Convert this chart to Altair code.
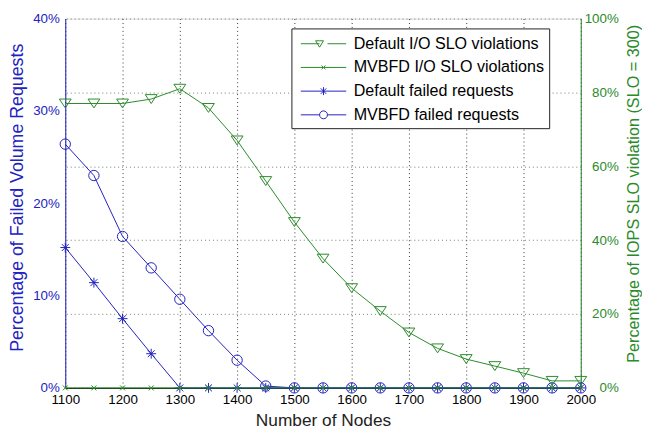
import altair as alt
import pandas as pd

# ---------------- data ----------------
nodes = [1100, 1150, 1200, 1250, 1300, 1350, 1400, 1450, 1500, 1550,
         1600, 1650, 1700, 1750, 1800, 1850, 1900, 1950, 2000]
default_io = [77.0, 77.0, 77.0, 78.2, 81.0, 75.8, 67.0, 56.0, 44.9, 35.0,
              27.0, 20.8, 15.0, 10.7, 7.8, 5.9, 4.0, 1.9, 1.9]
mvbfd_io = [0.0, 0.0, 0.0, 0.0, 0.0, 0.0, 0.0, 0.0, 0.0, 0.0,
            0.0, 0.0, 0.0, 0.0, 0.0, 0.0, 0.0, 0.0, 0.0]
default_failed = [15.2, 11.4, 7.5, 3.7, 0.0, 0.0, 0.0, 0.0, 0.0, 0.0,
                  0.0, 0.0, 0.0, 0.0, 0.0, 0.0, 0.0, 0.0, 0.0]
mvbfd_failed = [26.4, 23.0, 16.4, 13.0, 9.6, 6.2, 3.0, 0.2, 0.0, 0.0,
                0.0, 0.0, 0.0, 0.0, 0.0, 0.0, 0.0, 0.0, 0.0]

series_names = ["Default I/O SLO violations", "MVBFD I/O SLO violations",
                "Default failed requests", "MVBFD failed requests"]
x_ticks = [1100, 1200, 1300, 1400, 1500, 1600, 1700, 1800, 1900, 2000]
left_ticks = [0, 10, 20, 30, 40]
right_ticks = [0, 20, 40, 60, 80, 100]

# ---------------- style ----------------
BLUE = "#2222c0"
GREEN = "#2a8a2a"
FONT = "Liberation Sans"

def frame(values, name):
    return pd.DataFrame({"nodes": nodes, "value": values, "series": name})

df_dio = frame(default_io, series_names[0])
df_mio = frame(mvbfd_io, series_names[1])
df_dfr = frame(default_failed, series_names[2])
df_mfr = frame(mvbfd_failed, series_names[3])

x_enc = alt.X("nodes:Q", scale=alt.Scale(domain=[1100, 2000], nice=False, zero=False),
              axis=alt.Axis(values=x_ticks, title="Number of Nodes", grid=True,
                            gridDash=[1, 3], gridColor="#222222", gridOpacity=0.9,
                            ticks=False, labelPadding=5, labelFontSize=13.5,
                            labelFlush=False, labelOverlap=False, labelBound=False,
                            labelColor="black", titleFontSize=17.5, titleColor="#222222",
                            titleFontWeight="normal", titlePadding=6,
                            domainColor="black", format="d"))

yL = alt.Y("value:Q", scale=alt.Scale(domain=[0, 40], nice=False),
           axis=alt.Axis(orient="left", values=left_ticks, labelExpr="datum.value + '%'",
                         title="Percentage of Failed Volume Requests", titleColor=BLUE,
                         titleFontSize=18, titleFontWeight="normal", titleY=181,
                         labelColor=BLUE, labelFontSize=13.5, labelFlush=False,
                         labelOverlap=False, domainColor=BLUE, grid=False, ticks=False,
                         labelPadding=6, titlePadding=6))
yR = alt.Y("value:Q", scale=alt.Scale(domain=[0, 100], nice=False),
           axis=alt.Axis(orient="right", values=right_ticks, labelExpr="datum.value + '%'",
                         title="Percentage of IOPS SLO violation (SLO = 300)", titleColor=GREEN,
                         titleFontSize=16.4, titleFontWeight="normal", titleAngle=270,
                         titleY=177, labelColor=GREEN, labelFontSize=13.5, labelFlush=False,
                         labelOverlap=False, labelAlign="right", domainColor=GREEN,
                         grid=True, gridDash=[1, 3], gridColor="#557755", gridOpacity=0.9,
                         ticks=False, labelPadding=38, titlePadding=23))

# marker shapes (custom paths)
TRI = "M-1,-0.75H1L0,0.75Z"
XMK = "M-1,-1L1,1M-1,1L1,-1"
AST = "M-1,0H1M0,-1V1M-0.7,-0.7L0.7,0.7M-0.7,0.7L0.7,-0.7"

# legend symbols: line + marker
LEG_TRI = "M-0.6,0H1.3M2.1,0H4.0M1.3,-0.3H1.7L1.3,0.35L0.9,-0.3Z"
LEG_X = "M-0.6,0H4.0M1.5,-0.2L1.9,0.2M1.5,0.2L1.9,-0.2"
LEG_AST = "M-0.6,0H4.0M1.7,-0.4V0.4M1.42,-0.28L1.98,0.28M1.42,0.28L1.98,-0.28"
LEG_CIR = "M-0.6,0H1.3M2.1,0H4.0M2.1,0A0.4,0.4 0 1,1 1.3,0A0.4,0.4 0 1,1 2.1,0"

legend = alt.Legend(title=None, orient="none", legendX=229, legendY=10,
                    direction="vertical", strokeColor="#222222", fillColor="white",
                    padding=5, labelFontSize=16.3, labelFont=FONT, labelColor="black",
                    symbolSize=400, symbolStrokeWidth=1, symbolOpacity=1,
                    labelOffset=37, rowPadding=5, cornerRadius=0, labelLimit=400)

legend_layer = alt.Chart(pd.concat([df_dfr, df_mfr])).mark_point(
    opacity=0, filled=False).encode(
    x=x_enc, y=yL,
    color=alt.Color("series:N", scale=alt.Scale(domain=series_names,
                    range=[GREEN, GREEN, BLUE, BLUE]), legend=legend),
    shape=alt.Shape("series:N", scale=alt.Scale(domain=series_names,
                    range=[LEG_TRI, LEG_X, LEG_AST, LEG_CIR]), legend=legend),
)

def line_pts(df, y, color, shape, size):
    ln = alt.Chart(df).mark_line(color=color, strokeWidth=1).encode(x=x_enc, y=y)
    pt = alt.Chart(df).mark_point(shape=shape, color=color, size=size, filled=False,
                                  strokeWidth=1, opacity=1).encode(x=x_enc, y=y)
    return [ln, pt]

blue_group = alt.layer(
    *line_pts(df_dfr, yL, BLUE, AST, 100),
    *line_pts(df_mfr, yL, BLUE, "circle", 110),
    legend_layer,
)
green_group = alt.layer(
    *line_pts(df_dio, yR, GREEN, TRI, 144),
    *line_pts(df_mio, yR, GREEN, XMK, 25),
)

chart = alt.layer(blue_group, green_group).resolve_scale(y="independent").properties(
    width=522, height=374,
    autosize=alt.AutoSizeParams(type="none"),
    padding={"left": 58, "top": 8, "right": 62, "bottom": 44},
).configure_view(stroke="#222222", strokeWidth=1).configure_axis(
    labelFont=FONT, titleFont=FONT
).configure(background="white")

chart.save("out.html", embed_options={"renderer": "svg", "actions": False})
